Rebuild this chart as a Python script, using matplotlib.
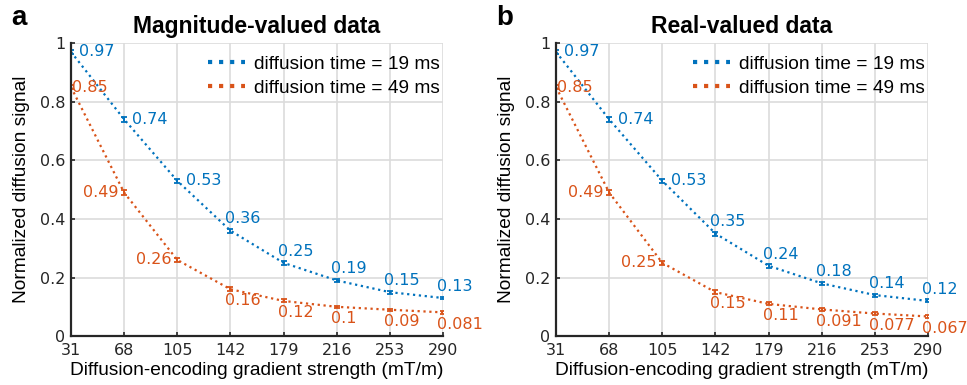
import matplotlib.pyplot as plt
import numpy as np

# gradient strengths (mT/m)
gradients = [31, 68, 105, 142, 179, 216, 253, 290]

# magnitude-valued data
mag_19ms = [0.97, 0.74, 0.53, 0.36, 0.25, 0.19, 0.15, 0.13]
mag_49ms = [0.85, 0.49, 0.26, 0.16, 0.12, 0.1, 0.09, 0.081]
mag_19ms_err = [0.008, 0.008, 0.007, 0.007, 0.006, 0.005, 0.005, 0.005]
mag_49ms_err = [0.008, 0.007, 0.007, 0.006, 0.005, 0.004, 0.004, 0.004]

# real-valued data
real_19ms = [0.97, 0.74, 0.53, 0.35, 0.24, 0.18, 0.14, 0.12]
real_49ms = [0.85, 0.49, 0.25, 0.15, 0.11, 0.091, 0.077, 0.067]
real_19ms_err = [0.008, 0.008, 0.007, 0.007, 0.006, 0.005, 0.005, 0.005]
real_49ms_err = [0.008, 0.007, 0.007, 0.006, 0.005, 0.004, 0.004, 0.004]

legend_labels = ["diffusion time = 19 ms", "diffusion time = 49 ms"]
titles = ["Magnitude-valued data", "Real-valued data"]
panel_letters = ["a", "b"]
yticks = [0, 0.2, 0.4, 0.6, 0.8, 1]
ytick_labels = ["0", "0.2", "0.4", "0.6", "0.8", "1"]

BLUE = "#0072BD"
ORANGE = "#D95319"
SANS = "Liberation Sans"


def draw_panel(ax, y19, e19, y49, e49, title, letter):
    ax.plot(gradients, y19, ":", color=BLUE, lw=1.6, label=legend_labels[0])
    ax.plot(gradients, y49, ":", color=ORANGE, lw=1.6, label=legend_labels[1])
    ax.errorbar(gradients, y19, yerr=e19, fmt="none", ecolor=BLUE, elinewidth=1.4,
                capsize=2.5, capthick=1.3)
    ax.errorbar(gradients, y49, yerr=e49, fmt="none", ecolor=ORANGE, elinewidth=1.4,
                capsize=2.5, capthick=1.3)

    # value labels
    fs = 11.5
    for i, (x, y) in enumerate(zip(gradients, y19)):
        txt = "%.2g" % y
        if i < 3:
            ax.annotate(txt, (x, y), xytext=(6, 0), textcoords="offset points",
                        ha="left", va="center", color=BLUE, fontsize=fs)
        else:
            ax.annotate(txt, (x, y), xytext=(-4, 3), textcoords="offset points",
                        ha="left", va="bottom", color=BLUE, fontsize=fs)
    for i, (x, y) in enumerate(zip(gradients, y49)):
        txt = "%.2g" % y
        if i == 0:
            ax.annotate(txt, (x, y), xytext=(1, 0), textcoords="offset points",
                        ha="left", va="center", color=ORANGE, fontsize=fs)
        elif i < 3:
            ax.annotate(txt, (x, y), xytext=(-4, 0), textcoords="offset points",
                        ha="right", va="center", color=ORANGE, fontsize=fs)
        else:
            ax.annotate(txt, (x, y), xytext=(-4, -3), textcoords="offset points",
                        ha="left", va="top", color=ORANGE, fontsize=fs)

    ax.set_xlim(gradients[0], gradients[-1])
    ax.set_ylim(0, 1)
    ax.set_xticks(gradients)
    ax.set_xticklabels([str(g) for g in gradients])
    ax.set_yticks(yticks)
    ax.set_yticklabels(ytick_labels)
    ax.tick_params(direction="in", length=3, width=1.2, labelsize=11.5,
                   colors="#262626")
    ax.tick_params(axis="x", pad=5)
    ax.tick_params(axis="y", pad=4)
    ax.grid(True, color="#dcdcdc", lw=1.2)
    ax.set_axisbelow(True)
    for s in ["top", "right"]:
        ax.spines[s].set_visible(False)
    for s in ["left", "bottom"]:
        ax.spines[s].set_linewidth(1.6)
        ax.spines[s].set_color("#262626")

    ax.set_xlabel("Diffusion-encoding gradient strength (mT/m)", family=SANS,
                  fontsize=13.8, labelpad=3)
    ax.set_ylabel("Normalized diffusion signal", family=SANS, fontsize=13.8, labelpad=7)
    ax.set_title(title, family=SANS, fontweight="bold", fontsize=16.5, pad=7)
    ax.text(-0.16, 1.04, letter, transform=ax.transAxes, family=SANS,
            fontweight="bold", fontsize=20, va="bottom", ha="left")

    leg = ax.legend(loc="upper right", bbox_to_anchor=(1.0, 0.968), frameon=False,
                    handlelength=1.9, handletextpad=0.5, borderaxespad=0.0,
                    borderpad=0.15, labelspacing=0.35,
                    prop={"family": SANS, "size": 13.8})
    for h in leg.get_lines():
        h.set_linewidth(3)


fig = plt.figure(figsize=(9.67, 3.85), dpi=100)
ax1 = fig.add_axes([0.0734, 0.127, 0.3847, 0.761])
ax2 = fig.add_axes([0.575, 0.127, 0.3847, 0.761])

draw_panel(ax1, mag_19ms, mag_19ms_err, mag_49ms, mag_49ms_err, titles[0], panel_letters[0])
draw_panel(ax2, real_19ms, real_19ms_err, real_49ms, real_49ms_err, titles[1], panel_letters[1])

fig.savefig("out.png", dpi=100)
plt.close(fig)
